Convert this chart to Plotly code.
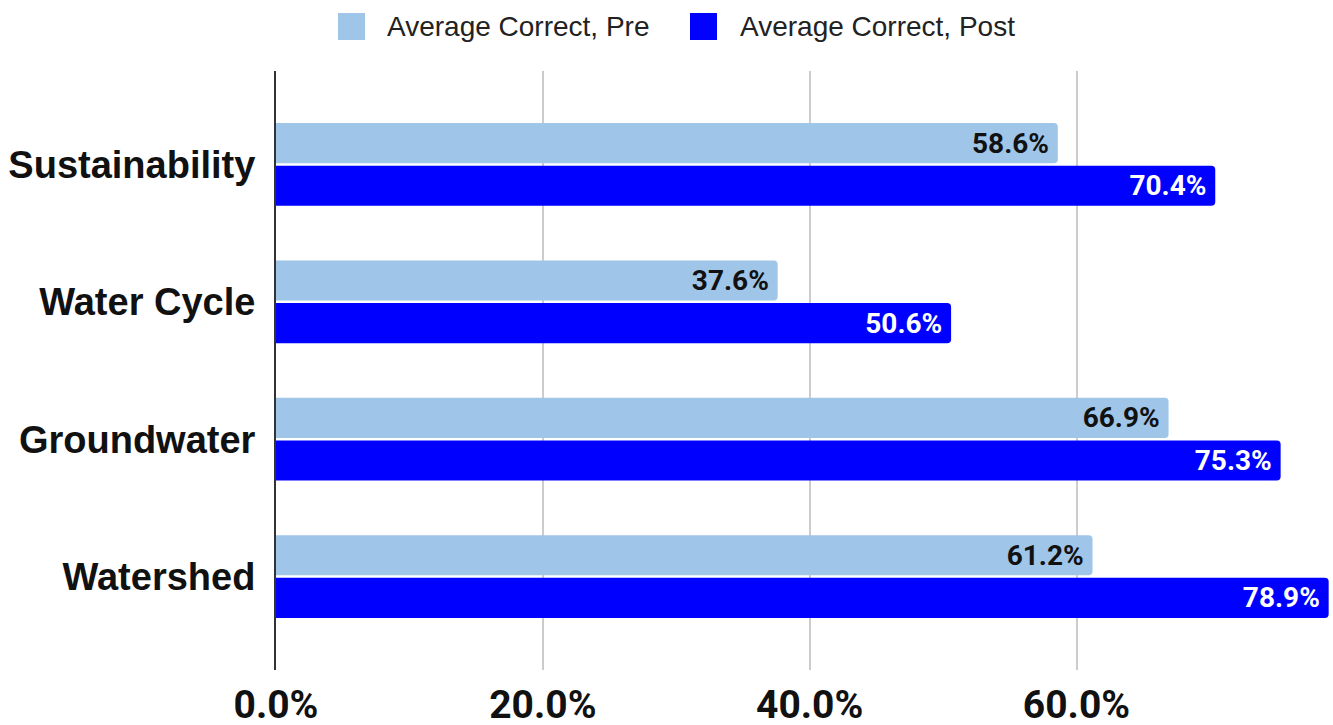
import plotly.graph_objects as go

categories = ["Sustainability", "Water Cycle", "Groundwater", "Watershed"]
pre_values = [0.586, 0.376, 0.669, 0.612]
post_values = [0.704, 0.506, 0.753, 0.789]
series_names = ["Average Correct, Pre", "Average Correct, Post"]
x_ticks = [0.0, 0.2, 0.4, 0.6]
x_tick_labels = ["0.0%", "20.0%", "40.0%", "60.0%"]

PRE_COLOR = "#9fc5e8"
POST_COLOR = "#0000ff"

W, H = 1333, 725
ML, MR, MT, MB = 276, 3, 71, 55
PW = W - ML - MR
PH = H - MT - MB


def px_x(px):
    return (px - ML) / PW


def px_y(py):
    return (H - MB - py) / PH


label_font = dict(family="Roboto, Arial", size=28, weight="bold")

fig = go.Figure()
fig.add_trace(go.Bar(
    y=categories, x=pre_values, orientation="h", name=series_names[0],
    marker=dict(color=PRE_COLOR, cornerradius=4, line=dict(width=0)),
    texttemplate="%{x:.1%}\u2009", textposition="inside",
    insidetextanchor="end", textangle=0,
    insidetextfont=dict(color="#111111", **label_font),
    showlegend=False,
))
fig.add_trace(go.Bar(
    y=categories, x=post_values, orientation="h", name=series_names[1],
    marker=dict(color=POST_COLOR, cornerradius=4, line=dict(width=0)),
    texttemplate="%{x:.1%}\u2009", textposition="inside",
    insidetextanchor="end", textangle=0,
    insidetextfont=dict(color="#ffffff", **label_font),
    showlegend=False,
))

# manual legend (large square swatches)
legend_items = [
    (series_names[0], PRE_COLOR, 338, 385),
    (series_names[1], POST_COLOR, 690, 738),
]
for name, color, sx, tx in legend_items:
    fig.add_shape(type="rect", xref="paper", yref="paper",
                  x0=px_x(sx), x1=px_x(sx + 27), y0=px_y(40), y1=px_y(13),
                  fillcolor=color, line=dict(width=0), layer="above")
    fig.add_annotation(xref="paper", yref="paper", x=px_x(tx), y=px_y(26),
                       xanchor="left", yanchor="middle", showarrow=False,
                       text=name,
                       font=dict(family="Arial, Liberation Sans", size=28, color="#222222"))

fig.update_layout(
    width=W, height=H,
    margin=dict(l=ML, r=MR, t=MT, b=MB),
    paper_bgcolor="white", plot_bgcolor="white",
    barmode="group", bargap=0.379, bargroupgap=0.06,
    showlegend=False,
    xaxis=dict(
        range=[0, 0.79], tickvals=x_ticks, ticktext=x_tick_labels,
        showgrid=True, gridcolor="#cccccc", gridwidth=1.5,
        zeroline=False, showline=False, ticks="",
        automargin=False,
        ticklabelstandoff=8,
        tickfont=dict(family="Roboto, Arial", size=39, weight="bold", color="#111111"),
    ),
    yaxis=dict(
        categoryorder="array", categoryarray=categories,
        range=[3.68, -0.68],
        showline=True, linecolor="#333333", linewidth=2,
        showgrid=False, zeroline=False, ticks="",
        automargin=False,
        ticklabelstandoff=11,
        tickfont=dict(family="Arial, Liberation Sans", size=38, weight="bold", color="#111111"),
    ),
)

fig.write_html(
    "out.html",
    config={"displayModeBar": False},
    post_script="document.body.style.margin='0';document.body.style.overflow='hidden';",
)
